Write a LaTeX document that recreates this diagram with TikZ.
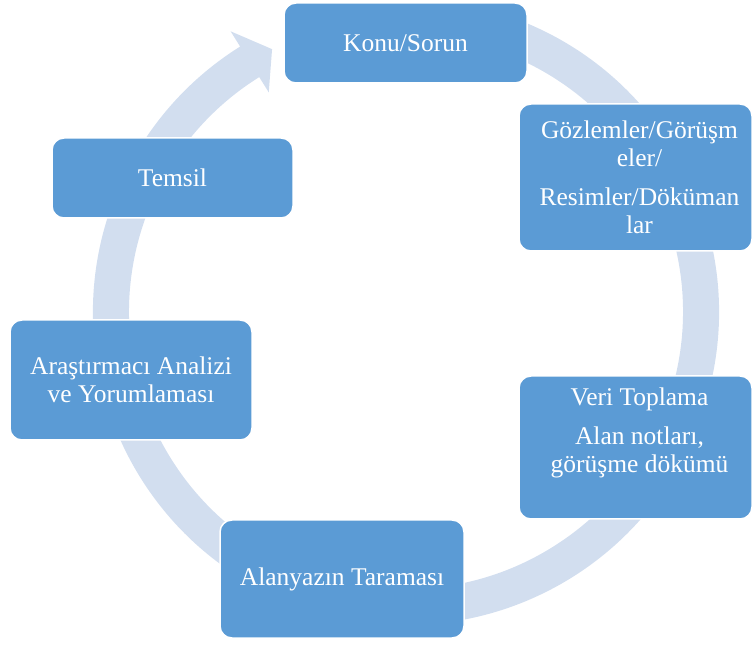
\documentclass[tikz,border=0pt]{standalone}
\usepackage{fontspec}
\setmainfont{Liberation Serif}
\definecolor{boxblue}{RGB}{91,155,213}
\definecolor{ringblue}{RGB}{210,222,239}
\newcommand{\txtpush}{\hspace*{8pt}}
\begin{document}
\begin{tikzpicture}[x=1pt,y=1pt,
  stagebox/.style={rectangle, rounded corners=12pt, fill=boxblue, draw=white,
    line width=1.5pt, text=white, align=center,
    font=\fontsize{25.5}{28.5}\selectfont, inner sep=0pt}]
\useasboundingbox (0,0) rectangle (753,646);
\clip (0,0) rectangle (753,646);
\coordinate (c) at (406,334);
% continuous cycle ring with arrowhead
\fill[ringblue] ([shift={(70:313)}]c) arc[start angle=70,end angle=-238,radius=313pt]
  -- ([shift={(-238:331)}]c) -- ([shift={(-243:295)}]c) -- ([shift={(-238:259)}]c)
  -- ([shift={(-238:277)}]c) arc[start angle=-238,end angle=70,radius=277pt] -- cycle;
% stages
\node[stagebox, minimum width=243pt, minimum height=80pt] (konu) at (405.5,603) {Konu/Sorun};
\node[stagebox, minimum width=233pt, minimum height=147pt] (goz) at (635.5,468.5)
  {\txtpush Gözlemler/Görüşm\\\txtpush eler/\\[10pt]\txtpush Resimler/Döküman\\\txtpush lar};
\node[stagebox, minimum width=233pt, minimum height=143pt, text depth=34pt] (veri) at (635.5,198.5)
  {\txtpush Veri Toplama\\[10pt]\txtpush Alan notları,\\\txtpush görüşme dökümü};
\node[stagebox, minimum width=244pt, minimum height=118pt] (alan) at (342,67) {Alanyazın Taraması};
\node[stagebox, minimum width=242pt, minimum height=120pt] (arast) at (131,266)
  {Araştırmacı Analizi\\ve Yorumlaması};
\node[stagebox, minimum width=241pt, minimum height=80pt] (temsil) at (172.5,468) {Temsil};
\end{tikzpicture}
\end{document}
